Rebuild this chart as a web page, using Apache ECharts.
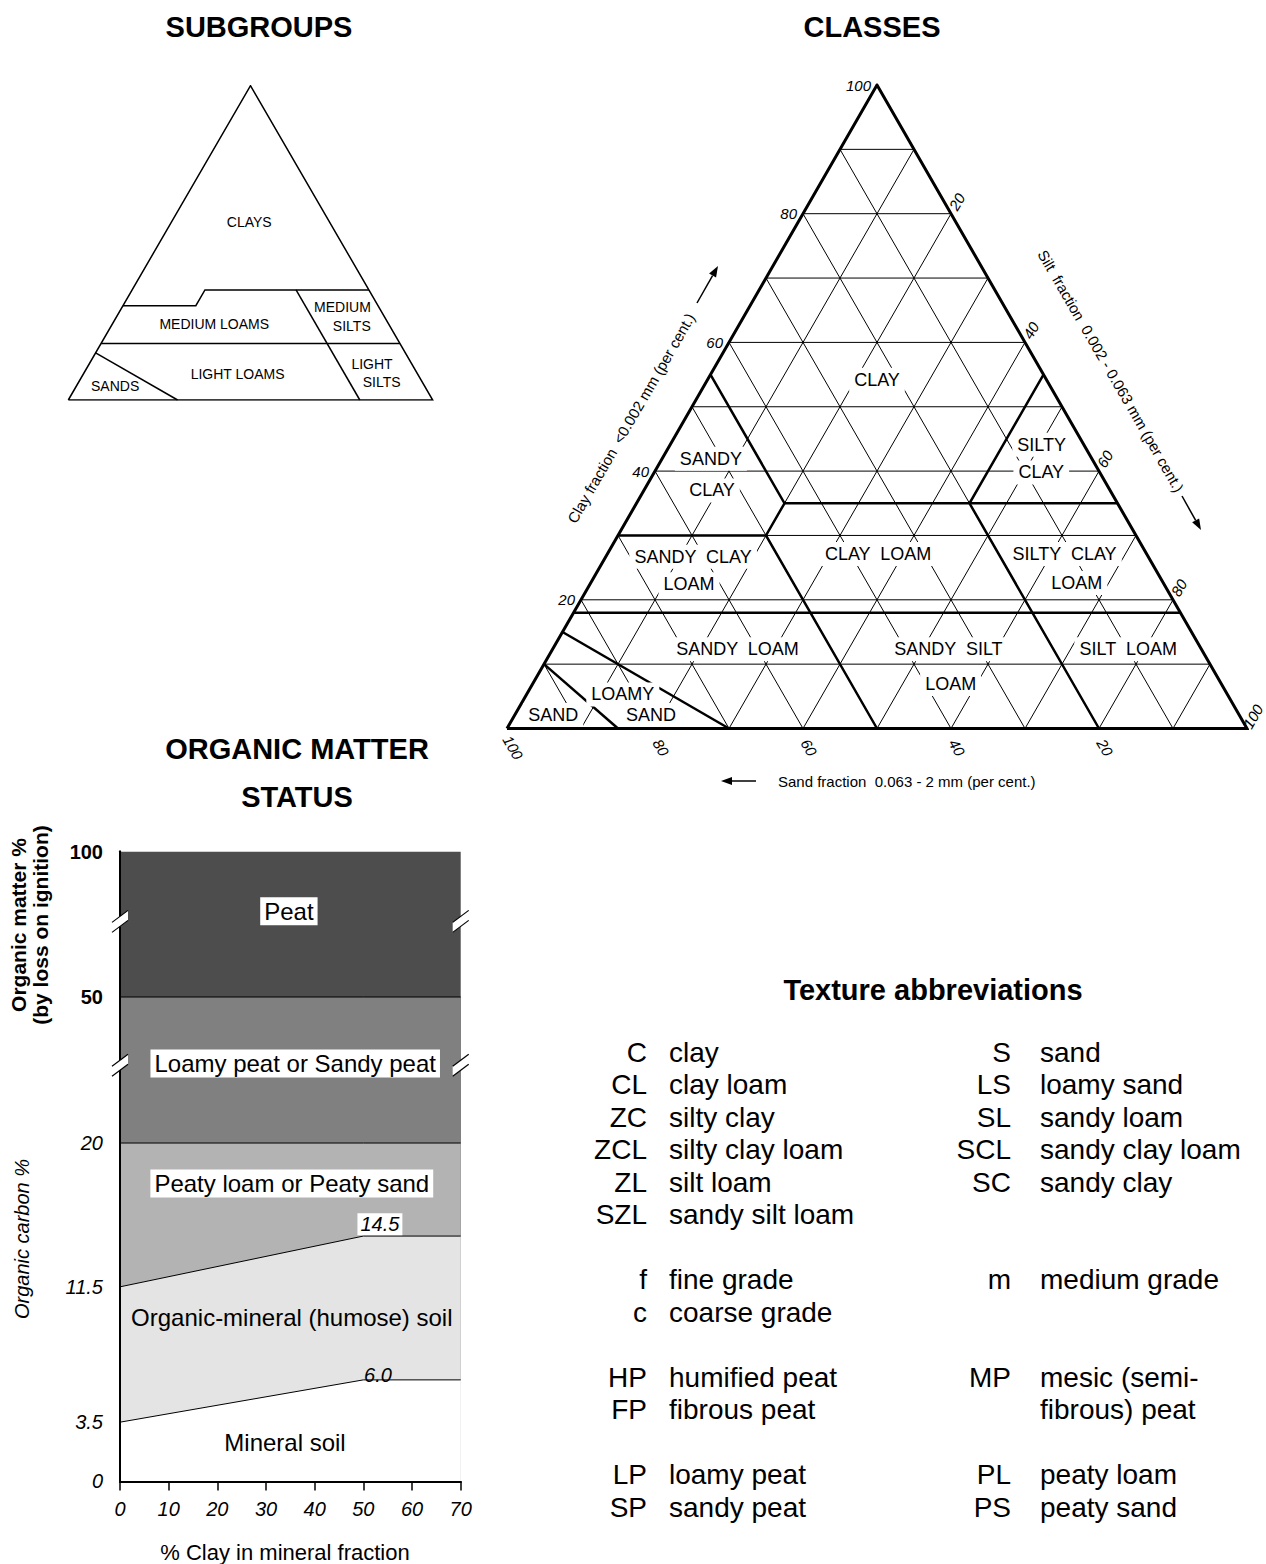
<!DOCTYPE html>
<html>
<head>
<meta charset="utf-8">
<title>Soil texture subgroups, classes and organic matter status</title>
<script src="https://cdn.jsdelivr.net/npm/echarts@6/dist/echarts.min.js"></script>
<style>
  html, body { margin: 0; padding: 0; background: #fff; }
  #main { width: 1266px; height: 1564px; }
</style>
</head>
<body>
<div id="main"></div>
<script>
// ternary points are written as [clay %, silt %]; sand % = 100 - clay - silt
var gridSteps = [10, 20, 30, 40, 50, 60, 70, 80, 90];
var clayTicks = [20, 40, 60, 80, 100];
var siltTicks = [20, 40, 60, 80, 100];
var sandTicks = [100, 80, 60, 40, 20];

var outline = [[0, 0], [0, 100], [100, 0], [0, 0]];

// subgroup boundaries
var subgroupLines = [
  [[15, 0], [0, 30]],
  [[18, 0], [18, 82]],
  [[30, 0], [30, 20], [35, 20], [35, 65]],
  [[35, 45], [0, 80]]
];
var subgroupNames = ['CLAYS', 'MEDIUM LOAMS', 'MEDIUM', 'SILTS', 'LIGHT LOAMS', 'LIGHT', 'SILTS', 'SANDS'];
var subgroupAt = [[56.7, 21.3], [24.1, 28.0], [29.5, 60.5], [23.6, 66.0], [8.3, 42.3], [11.5, 77.6], [5.8, 83.1], [4.5, 10.6]];

// class boundaries
var classLines = [
  [[10, 0], [0, 15]],
  [[15, 0], [0, 30]],
  [[18, 0], [18, 82]],
  [[0, 50], [30, 20], [35, 20]],
  [[30, 0], [30, 20]],
  [[55, 0], [35, 20], [35, 65]],
  [[0, 80], [35, 45], [55, 45]]
];
var classNames = ['CLAY', 'SILTY', 'CLAY', 'SANDY', 'CLAY', 'SANDY \u00a0CLAY', 'LOAM', 'CLAY \u00a0LOAM',
  'SILTY \u00a0CLAY', 'LOAM', 'SANDY \u00a0LOAM', 'SANDY \u00a0SILT', 'LOAM', 'SILT \u00a0LOAM', 'LOAMY', 'SAND', 'SAND'];
var classAt = [[54.2, 22.9], [44.1, 50.2], [39.8, 52.3], [41.9, 6.6], [37.0, 9.2], [26.7, 11.8], [22.4, 13.4],
  [27.1, 36.6], [27.1, 61.8], [22.6, 65.7], [12.3, 25.0], [12.3, 53.5], [6.9, 56.5], [12.3, 77.8],
  [5.3, 13.0], [2.1, 18.4], [2.1, 5.2]];

// organic matter status
var clayPct = [0, 50, 70];
var mineralTop = [3.5, 6.0, 6.0];      // organic carbon %
var humoseTop = [11.5, 14.5, 14.5];    // organic carbon %
var peatyTop = [20, 20, 20];           // organic carbon %
var loamyPeatTop = [50, 50, 50];       // organic matter %
var peatTop = [100, 100, 100];         // organic matter %
var carbonTicks = [0, 3.5, 11.5, 20];
var matterTicks = [50, 100];
var omNames = ['Peat', 'Loamy peat or Sandy peat', 'Peaty loam or Peaty sand', 'Organic-mineral (humose) soil', 'Mineral soil'];
var omAt = [[34.7, 33.7], [36.0, 24.7], [35.3, 17.6], [35.3, 9.7], [33.9, 2.3]];
var valueNames = ['14.5', '6.0'];
var valueAt = [[53.4, 15.2], [53.0, 6.3]];

var leftAbbr = [['C', 'clay'], ['CL', 'clay loam'], ['ZC', 'silty clay'], ['ZCL', 'silty clay loam'], ['ZL', 'silt loam'],
  ['SZL', 'sandy silt loam'], null, ['f', 'fine grade'], ['c', 'coarse grade'], null, ['HP', 'humified peat'],
  ['FP', 'fibrous peat'], null, ['LP', 'loamy peat'], ['SP', 'sandy peat']];
var rightAbbr = [['S', 'sand'], ['LS', 'loamy sand'], ['SL', 'sandy loam'], ['SCL', 'sandy clay loam'], ['SC', 'sandy clay'],
  null, null, ['m', 'medium grade'], null, null, ['MP', 'mesic (semi-'], ['', 'fibrous) peat'], null,
  ['PL', 'peaty loam'], ['PS', 'peaty sand']];

// the broken upper part of the axis: where organic matter % sits on the carbon scale
var matterOnAxis = { 50: 28.63, 100: 37.23 };
var breakAt = [24.6, 33.1];

var FONT = '"Liberation Sans", Arial, Helvetica, sans-serif';

function tern(p) { return [p[1] + p[0] / 2, p[0]]; }
function poly(list) { return list.map(function (l) { return { coords: l.map(tern) }; }); }

var gridLines = [];
gridSteps.forEach(function (k) {
  gridLines.push([[k, 0], [k, 100 - k]]);
  gridLines.push([[0, k], [100 - k, k]]);
  gridLines.push([[0, 100 - k], [100 - k, 0]]);
});

function linesSeries(idx, data, width) {
  return {
    type: 'lines', coordinateSystem: 'cartesian2d', xAxisIndex: idx, yAxisIndex: idx,
    polyline: true, silent: true, data: poly(data),
    lineStyle: { color: '#000', width: width, opacity: 1, curveness: 0 }
  };
}

var plainLabel = {
  show: true, position: 'inside', formatter: '{b}', color: '#000', opacity: 1, fontFamily: FONT,
  textBorderWidth: 0, textBorderColor: 'transparent'
};

function labelSeries(idx, names, at, size, bg) {
  return {
    type: 'scatter', xAxisIndex: idx, yAxisIndex: idx, symbolSize: 0, silent: true, z: 5,
    itemStyle: { opacity: 1 },
    data: names.map(function (n, i) { return { name: n, value: tern(at[i]) }; }),
    label: Object.assign({}, plainLabel, {
      fontSize: size, backgroundColor: bg ? '#fff' : 'transparent', padding: bg ? [3, 5] : 0
    })
  };
}

function band(tops, color, width) {
  return {
    type: 'line', xAxisIndex: 2, yAxisIndex: 2, symbol: 'none', silent: true,
    data: clayPct.map(function (x, i) { return [x, tops[i]]; }),
    lineStyle: { color: '#000', width: width },
    areaStyle: { color: color, opacity: 1, origin: 'start' }
  };
}

function toAxis(v) { return matterOnAxis[v]; }

var yTickAt = carbonTicks.concat(matterTicks.map(toAxis));
var yTickText = carbonTicks.map(function (v) { return '{oc|' + v + '}'; })
  .concat(matterTicks.map(function (v) { return '{om|' + v + '}'; }));

var hiddenAxis = function (i) { return { gridIndex: i, type: 'value', min: 0, max: 100, show: false }; };
var frameLine = { show: true, lineStyle: { color: '#000', width: 2 } };

var option = {
  animation: false,
  backgroundColor: '#fff',
  textStyle: { fontFamily: FONT },
  grid: [
    { left: 68.3, top: 85.7, width: 364.4, height: 314.3, outerBoundsMode: 'none' },
    { left: 507, top: 85, width: 740, height: 643.5, outerBoundsMode: 'none' },
    { left: 120, top: 851.5, width: 340.7, height: 629.9, outerBoundsMode: 'none' }
  ],
  xAxis: [
    hiddenAxis(0), hiddenAxis(1),
    {
      gridIndex: 2, type: 'value', min: 0, max: 70, interval: 10, z: 10,
      axisLine: frameLine, splitLine: { show: false },
      axisTick: { show: true, length: 9, lineStyle: { color: '#000', width: 1.5 } },
      axisLabel: { color: '#000', fontSize: 20, fontStyle: 'italic', margin: 18, fontFamily: FONT }
    },
    {
      gridIndex: 2, type: 'value', min: 0, max: 70, position: 'top', z: 10,
      axisLine: frameLine, axisTick: { show: false }, axisLabel: { show: false }, splitLine: { show: false }
    }
  ],
  yAxis: [
    hiddenAxis(0), hiddenAxis(1),
    {
      gridIndex: 2, type: 'value', min: 0, max: toAxis(100), z: 10,
      axisLine: frameLine, axisTick: { show: false }, splitLine: { show: false },
      axisLabel: {
        customValues: yTickAt, margin: 17, color: '#000',
        formatter: function (v) {
          var best = 0;
          yTickAt.forEach(function (t, i) { if (Math.abs(t - v) < Math.abs(yTickAt[best] - v)) best = i; });
          return yTickText[best];
        },
        rich: {
          oc: { fontSize: 20, fontStyle: 'italic', fontFamily: FONT, color: '#000' },
          om: { fontSize: 20, fontWeight: 'bold', fontFamily: FONT, color: '#000' }
        }
      }
    },
    {
      gridIndex: 2, type: 'value', min: 0, max: toAxis(100), position: 'right', z: 10,
      axisLine: frameLine, axisTick: { show: false }, axisLabel: { show: false }, splitLine: { show: false }
    }
  ],
  series: [
    linesSeries(0, subgroupLines, 1.5),
    linesSeries(0, [outline], 1.5),
    linesSeries(1, gridLines, 1),
    linesSeries(1, classLines, 2.5),
    linesSeries(1, [outline], 3),
    labelSeries(0, subgroupNames, subgroupAt, 14, false),
    labelSeries(1, classNames, classAt, 18, true),
    band(peatTop.map(toAxis), '#4d4d4d', 0),
    band(loamyPeatTop.map(toAxis), '#808080', 1),
    band(peatyTop, '#b3b3b3', 1),
    band(humoseTop, '#e4e4e4', 1),
    band(mineralTop, '#ffffff', 1),
    {
      type: 'scatter', xAxisIndex: 2, yAxisIndex: 2, symbolSize: 0, silent: true, z: 5,
      itemStyle: { opacity: 1 },
      data: omNames.map(function (n, i) {
        var boxed = i < 3;
        return {
          name: n, value: omAt[i],
          label: { backgroundColor: boxed ? '#fff' : 'transparent', padding: boxed ? [2, 4] : 0 }
        };
      }),
      label: Object.assign({}, plainLabel, { fontSize: 24 })
    },
    {
      type: 'scatter', xAxisIndex: 2, yAxisIndex: 2, symbolSize: 0, silent: true, z: 5,
      itemStyle: { opacity: 1 },
      data: valueNames.map(function (n, i) {
        return { name: n, value: valueAt[i], label: { backgroundColor: i === 0 ? '#fff' : 'transparent' } };
      }),
      label: Object.assign({}, plainLabel, { fontSize: 20, fontStyle: 'italic', padding: [1, 3] })
    }
  ]
};

var chart = echarts.init(document.getElementById('main'), null, { renderer: 'svg' });
chart.setOption(option);

// texts and marks placed after layout
function txt(x, y, s, o) {
  return {
    type: 'text', x: x, y: y, rotation: o.rot || 0, z: 50, silent: true,
    style: {
      text: s, fill: '#000', fontSize: o.size, fontFamily: FONT,
      fontWeight: o.weight || 'normal', fontStyle: o.style || 'normal',
      align: o.align || 'center', verticalAlign: 'middle',
      textAlign: o.align || 'center', textVerticalAlign: 'middle'
    }
  };
}

function arrow(x1, y1, x2, y2) {
  var dx = x2 - x1, dy = y2 - y1, len = Math.sqrt(dx * dx + dy * dy);
  var ux = dx / len, uy = dy / len, bx = x2 - ux * 11, by = y2 - uy * 11;
  return [
    { type: 'polyline', z: 50, silent: true, shape: { points: [[x1, y1], [bx, by]] }, style: { stroke: '#000', lineWidth: 1.5, fill: null } },
    { type: 'polygon', z: 50, silent: true, shape: { points: [[x2, y2], [bx - uy * 4, by + ux * 4], [bx + uy * 4, by - ux * 4]] }, style: { fill: '#000' } }
  ];
}

var g = [];

clayTicks.forEach(function (c) {
  var p = chart.convertToPixel({ gridIndex: 1 }, tern([c, 0]));
  g.push(txt(p[0] - 6, p[1], String(c), { size: 15, style: 'italic', align: 'right' }));
});
siltTicks.forEach(function (s) {
  var p = chart.convertToPixel({ gridIndex: 1 }, tern([100 - s, s]));
  g.push(txt(p[0] + 6, p[1] - 12, String(s), { size: 15, style: 'italic', rot: Math.PI / 3 }));
});
sandTicks.forEach(function (d) {
  var p = chart.convertToPixel({ gridIndex: 1 }, tern([0, 100 - d]));
  g.push(txt(p[0] + 6, p[1] + 19, String(d), { size: 15, style: 'italic', rot: -Math.PI / 3 }));
});

// axis titles of the ternary diagram
g.push(txt(631, 418, 'Clay fraction \u00a0<0.002 mm (per cent.)', { size: 15, rot: Math.PI / 3 }));
g.push(txt(1111, 371, 'Silt \u00a0fraction \u00a00.002 - 0.063 mm (per cent.)', { size: 15, rot: -Math.PI / 3 }));
g.push(txt(778, 781, 'Sand fraction \u00a00.063 - 2 mm (per cent.)', { size: 15, align: 'left' }));
g = g.concat(arrow(697, 303, 718, 266), arrow(1182, 496, 1201, 530), arrow(756, 781, 721, 781));

// headings
g.push(txt(259, 27, 'SUBGROUPS', { size: 29, weight: 'bold' }));
g.push(txt(872, 27, 'CLASSES', { size: 29, weight: 'bold' }));
g.push(txt(297, 749, 'ORGANIC MATTER', { size: 29, weight: 'bold' }));
g.push(txt(297, 797, 'STATUS', { size: 29, weight: 'bold' }));
g.push(txt(933, 990, 'Texture abbreviations', { size: 29, weight: 'bold' }));

// organic matter chart axis titles
g.push(txt(18, 925, 'Organic matter %', { size: 21, weight: 'bold', rot: Math.PI / 2 }));
g.push(txt(40, 925, '(by loss on ignition)', { size: 21, weight: 'bold', rot: Math.PI / 2 }));
g.push(txt(22, 1239, 'Organic carbon %', { size: 20, style: 'italic', rot: Math.PI / 2 }));
g.push(txt(285, 1552, '% Clay in mineral fraction', { size: 22 }));

// axis break marks on both sides of the frame
breakAt.forEach(function (v) {
  [0, 70].forEach(function (x) {
    var p = chart.convertToPixel({ gridIndex: 2 }, [x, v]);
    var cx = p[0], cy = p[1];
    g.push({
      type: 'polygon', z: 60, silent: true,
      shape: { points: [[cx - 8, cy + 11], [cx + 8, cy - 1], [cx + 8, cy - 11], [cx - 8, cy + 1]] },
      style: { fill: '#fff' }
    });
    g.push({ type: 'polyline', z: 61, silent: true, shape: { points: [[cx - 8, cy + 11], [cx + 8, cy - 1]] }, style: { stroke: '#000', lineWidth: 1.2, fill: null } });
    g.push({ type: 'polyline', z: 61, silent: true, shape: { points: [[cx - 8, cy + 1], [cx + 8, cy - 11]] }, style: { stroke: '#000', lineWidth: 1.2, fill: null } });
  });
});

// texture abbreviations
var rowY0 = 1052, rowStep = 32.5;
leftAbbr.forEach(function (r, i) {
  if (!r) return;
  g.push(txt(647, rowY0 + i * rowStep, r[0], { size: 28, align: 'right' }));
  g.push(txt(669, rowY0 + i * rowStep, r[1], { size: 28, align: 'left' }));
});
rightAbbr.forEach(function (r, i) {
  if (!r) return;
  if (r[0]) g.push(txt(1011, rowY0 + i * rowStep, r[0], { size: 28, align: 'right' }));
  g.push(txt(1040, rowY0 + i * rowStep, r[1], { size: 28, align: 'left' }));
});

chart.setOption({ graphic: { elements: g } });
</script>
</body>
</html>
